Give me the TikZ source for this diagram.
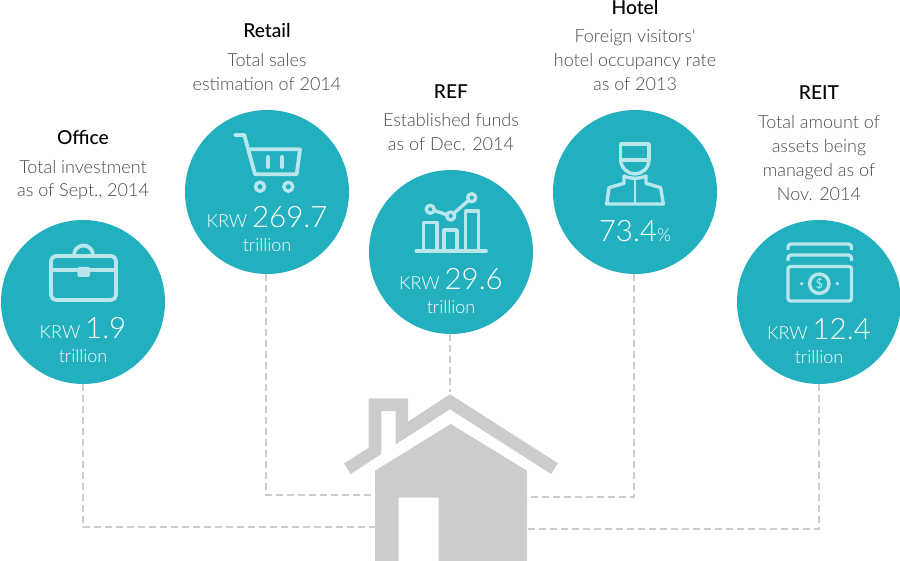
\documentclass[tikz,border=0pt]{standalone}
\usepackage{fontspec}
\setmainfont{Lato}
\newfontfamily\lightf{Lato Light}
\newfontfamily\medf{Lato Medium}
\definecolor{teal}{HTML}{22B0BF}
\definecolor{ico}{HTML}{B8E6EC}
\definecolor{hgray}{HTML}{CCCCCC}
\definecolor{desc}{HTML}{4A4A4A}
\tikzset{
 circ/.style={circle,fill=teal,minimum size=164pt,inner sep=0pt,outer sep=0pt},
 link/.style={draw=hgray,line width=2pt,dash pattern=on 7pt off 4pt},
 icon/.style={draw=ico,line width=3.8pt,line join=round,line cap=round},
 thinicon/.style={icon,line width=3.4pt},
 ttl/.style={anchor=base,inner sep=0pt,font=\medf\fontsize{19.2}{18}\selectfont,text=black},
 dsc/.style={anchor=base,inner sep=0pt,font=\lightf\fontsize{18}{18}\selectfont,text=desc},
 val/.style={anchor=base,inner sep=0pt,text=white,font=\lightf\fontsize{18}{18}\selectfont},
}
\newcommand{\bignum}[1]{{\fontsize{29.5}{30}\selectfont #1}}
\begin{document}
\begin{tikzpicture}[x=1pt,y=-1pt]
\useasboundingbox (0,0) rectangle (900,561);
\node[circ] (office) at (83,302) {};
\node[circ] (retail) at (267,192) {};
\node[circ] (ref) at (451,252) {};
\node[circ] (hotel) at (635,192) {};
\node[circ] (reit) at (819,302) {};
% house
\fill[hgray] (344,463.3) -- (368.7,447.7) -- (368.7,398.3) -- (408,398.3) -- (408,421.7) -- (450,394.3) -- (558,463.3) -- (551,474) -- (450,409.3) -- (395.7,444.3) -- (395.7,411) -- (381.3,411) -- (381.3,454) -- (350.7,474) -- cycle;
\fill[hgray] (375,561) -- (375,470.7) -- (450.7,424) -- (527,470.7) -- (527,561) -- (438.7,561) -- (438.7,497.7) -- (398.7,497.7) -- (398.7,561) -- cycle;
\coordinate (hl1) at (375,527);
\coordinate (hl2) at (375,495);
\coordinate (hr1) at (527,497);
\coordinate (hr2) at (527,529);
\coordinate (hroof) at (450,392);
% connectors
\draw[link] (office.south) |- (hl1);
\draw[link] ([xshift=-1pt]retail.south) |- (hl2);
\draw[link] (hroof |- ref.south) -- (hroof);
\draw[link] ([xshift=-1pt]hotel.south) |- (hr1);
\draw[link] (reit.south) |- (hr2);
% office icon
\draw[icon,rounded corners=5pt] (51,256) rectangle (116,300);
\draw[icon,line cap=butt] (51,270) -- (116,270);
\draw[icon,line cap=butt] (74,255) arc[start angle=180,end angle=360,radius=9.5];
\fill[ico,rounded corners=1.5pt] (77.3,267) rectangle (90,277);
% cart
\draw[icon] (235,135) -- (244.3,135) -- (255,174.3) -- (296.7,174.3) -- (300,149.3) -- (249,149.3);
\draw[icon] (268.3,157) -- (268.3,167);
\draw[icon] (281.7,157) -- (281.7,167);
\draw[thinicon] (260,186.7) circle[radius=4.5];
\draw[thinicon] (288.3,186.7) circle[radius=4.5];
% chart
\draw[thinicon,line cap=butt] (423.5,251) -- (423.5,222.3) -- (437,222.3) -- (437,251);
\draw[thinicon,line cap=butt] (444,251) -- (444,230) -- (457,230) -- (457,251);
\draw[thinicon,line cap=butt] (465.7,251) -- (465.7,211) -- (478.7,211) -- (478.7,251);
\draw[icon] (416.5,251) -- (486,251);
\draw[thinicon] (430.3,209.3) -- (450.7,216) -- (471.7,197.7);
\draw[thinicon,fill=teal] (430.3,209.3) circle[radius=4];
\draw[thinicon,fill=teal] (450.7,216) circle[radius=4];
\draw[thinicon,fill=teal] (471.7,197.7) circle[radius=4];
% bellboy
\draw[thinicon] (620.7,160) -- (620.7,144) -- (649,144) -- (649,160) -- cycle;
\draw[thinicon] (620.7,160) .. controls (621,168) and (628,174) .. (635,174) .. controls (642,174) and (649,168) .. (649,160);
\draw[thinicon] (624,176) -- (624,183.3) -- (609,187.7) -- (606.7,204) -- (663.3,204) -- (660.7,187.7) -- (646,183.3) -- (646,176);
\draw[thinicon] (624,176) .. controls (630,179) and (640,179) .. (646,176);
\draw[icon,line width=2.4pt,line cap=butt] (635,178) -- (635,204);
% money
\draw[thinicon,line cap=butt,rounded corners=3pt] (788,250) -- (788,244) -- (851.5,244) -- (851.5,250);
\draw[thinicon,line cap=butt,rounded corners=3pt] (788,261) -- (788,255) -- (851.5,255) -- (851.5,261);
\draw[thinicon,rounded corners=2.5pt] (788,266.5) rectangle (851.5,301);
\draw[thinicon] (819.3,283.7) circle[radius=9.7];
\fill[ico] (801.7,283.7) circle[radius=1.8];
\fill[ico] (837.3,283.7) circle[radius=1.8];
\node[inner sep=0pt,text=ico,font=\medf\fontsize{13}{13}\selectfont] (dollar) at (819.3,283.7) {\$};
% values
\node[val] (v1) at (83,338.7) {KRW \bignum{1.9}};
\node[val] (t1) at (83,362.7) {trillion};
\node[val] (v2) at (267,227.7) {KRW \bignum{269.7}};
\node[val] (t2) at (267,251.7) {trillion};
\node[val] (v3) at (451,290) {KRW \bignum{29.6}};
\node[val] (t3) at (451,313.7) {trillion};
\node[val] (v4) at (635,241.7) {\bignum{73.4}\%};
\node[val] (v5) at (819,340) {KRW \bignum{12.4}};
\node[val] (t5) at (819,363.7) {trillion};
% labels
\node[ttl] (a0) at (83,145) {Office};
\node[dsc] (a1) at (83,174) {Total investment};
\node[dsc] (a2) at (83,197) {as of Sept., 2014};
\node[ttl] (b0) at (267,38) {Retail};
\node[dsc] (b1) at (267,67) {Total sales};
\node[dsc] (b2) at (267,91) {estimation of 2014};
\node[ttl] (c0) at (451,99) {REF};
\node[dsc] (c1) at (451,127) {Established funds};
\node[dsc] (c2) at (451,151) {as of Dec. 2014};
\node[ttl] (d0) at (635,15) {Hotel};
\node[dsc] (d1) at (635,43) {Foreign visitors'};
\node[dsc] (d2) at (635,67) {hotel occupancy rate};
\node[dsc] (d3) at (635,91) {as of 2013};
\node[ttl] (e0) at (819,100) {REIT};
\node[dsc] (e1) at (819,129) {Total amount of};
\node[dsc] (e2) at (819,153) {assets being};
\node[dsc] (e3) at (819,177) {managed as of};
\node[dsc] (e4) at (819,201) {Nov. 2014};
\end{tikzpicture}
\end{document}
